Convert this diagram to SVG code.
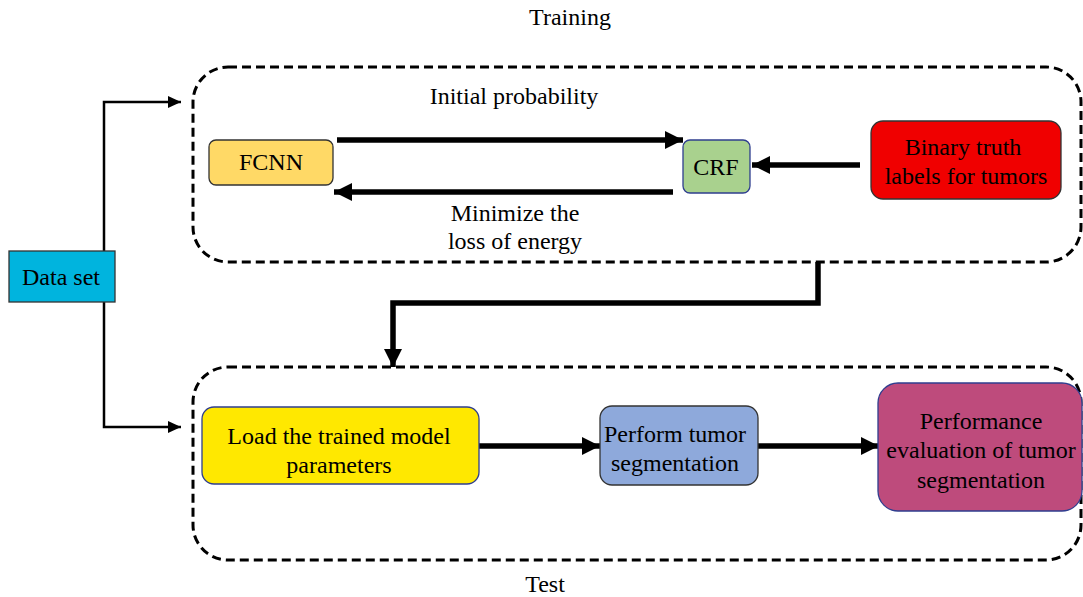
<svg xmlns="http://www.w3.org/2000/svg" width="1083" height="597" viewBox="0 0 1083 597">
<style>
text{font-family:'Liberation Serif','Times New Roman','DejaVu Serif',serif;font-size:24px;fill:#000;text-anchor:middle}
.grp{fill:none;stroke:#000;stroke-width:3;stroke-dasharray:9 5}
.node{stroke-width:1.3}
.thick{fill:none;stroke:#000;stroke-width:5.5}
.thin{fill:none;stroke:#000;stroke-width:2.5}
</style>
<defs>
<marker id="big" markerUnits="userSpaceOnUse" markerWidth="20" markerHeight="20" viewBox="0 0 20 20" refX="18" refY="10" orient="auto">
<path d="M0,1 L18,10 L0,19 Z" fill="#000"/>
</marker>
<marker id="small" markerUnits="userSpaceOnUse" markerWidth="14" markerHeight="14" viewBox="0 0 14 14" refX="13" refY="7" orient="auto">
<path d="M0,1 L13,7 L0,13 Z" fill="#000"/>
</marker>
</defs>
<rect width="1083" height="597" fill="#fff"/>
<g id="training-group">
<rect class="grp" x="193" y="67" width="888" height="195" rx="35"/>
<text x="570" y="25">Training</text>
</g>
<g id="test-group">
<rect class="grp" x="193" y="367" width="888" height="193" rx="35"/>
<text x="545" y="592">Test</text>
</g>
<g id="connectors">
<path class="thin" d="M104,251 V102 H181" marker-end="url(#small)"/>
<path class="thin" d="M104,302 V427 H181" marker-end="url(#small)"/>
<path class="thick" d="M337,140 H683" marker-end="url(#big)"/>
<path class="thick" d="M673,192 H334" marker-end="url(#big)"/>
<path class="thick" d="M860,165 H752" marker-end="url(#big)"/>
<path class="thick" d="M818,262 V303 H393 V367" marker-end="url(#big)"/>
<path class="thick" d="M479,446 H600" marker-end="url(#big)"/>
<path class="thick" d="M758,446 H879" marker-end="url(#big)"/>
<text x="514" y="104">Initial probability</text>
<text x="515" y="221">Minimize the</text>
<text x="515" y="249">loss of energy</text>
</g>
<g id="data-set">
<rect class="node" x="9" y="251" width="106" height="51" fill="#00B4DE" stroke="#333"/>
<text x="61" y="285">Data set</text>
</g>
<g id="fcnn">
<rect class="node" x="209" y="140" width="124" height="45" rx="7" fill="#FFD966" stroke="#333"/>
<text x="271" y="170">FCNN</text>
</g>
<g id="crf">
<rect class="node" x="683" y="140" width="67" height="53" rx="7" fill="#A9D18E" stroke="#2F3E8F"/>
<text x="716" y="175">CRF</text>
</g>
<g id="binary-truth">
<rect class="node" x="871" y="121" width="190" height="78" rx="12" fill="#F00000" stroke="#333"/>
<text x="963" y="155">Binary truth</text>
<text x="966" y="184">labels for tumors</text>
</g>
<g id="load-model">
<rect class="node" x="202" y="407" width="277" height="77" rx="12" fill="#FFE800" stroke="#2F3E8F"/>
<text x="339" y="444">Load the trained model</text>
<text x="339" y="473">parameters</text>
</g>
<g id="perform-segmentation">
<rect class="node" x="600" y="406" width="158" height="79" rx="12" fill="#8EA9DB" stroke="#333"/>
<text x="675" y="442">Perform tumor</text>
<text x="675" y="471">segmentation</text>
</g>
<g id="performance-evaluation">
<rect class="node" x="878" y="383" width="204" height="128" rx="20" fill="#BE4B7C" stroke="#2F3E8F"/>
<text x="981" y="429">Performance</text>
<text x="981" y="458">evaluation of tumor</text>
<text x="981" y="488">segmentation</text>
</g>
</svg>
